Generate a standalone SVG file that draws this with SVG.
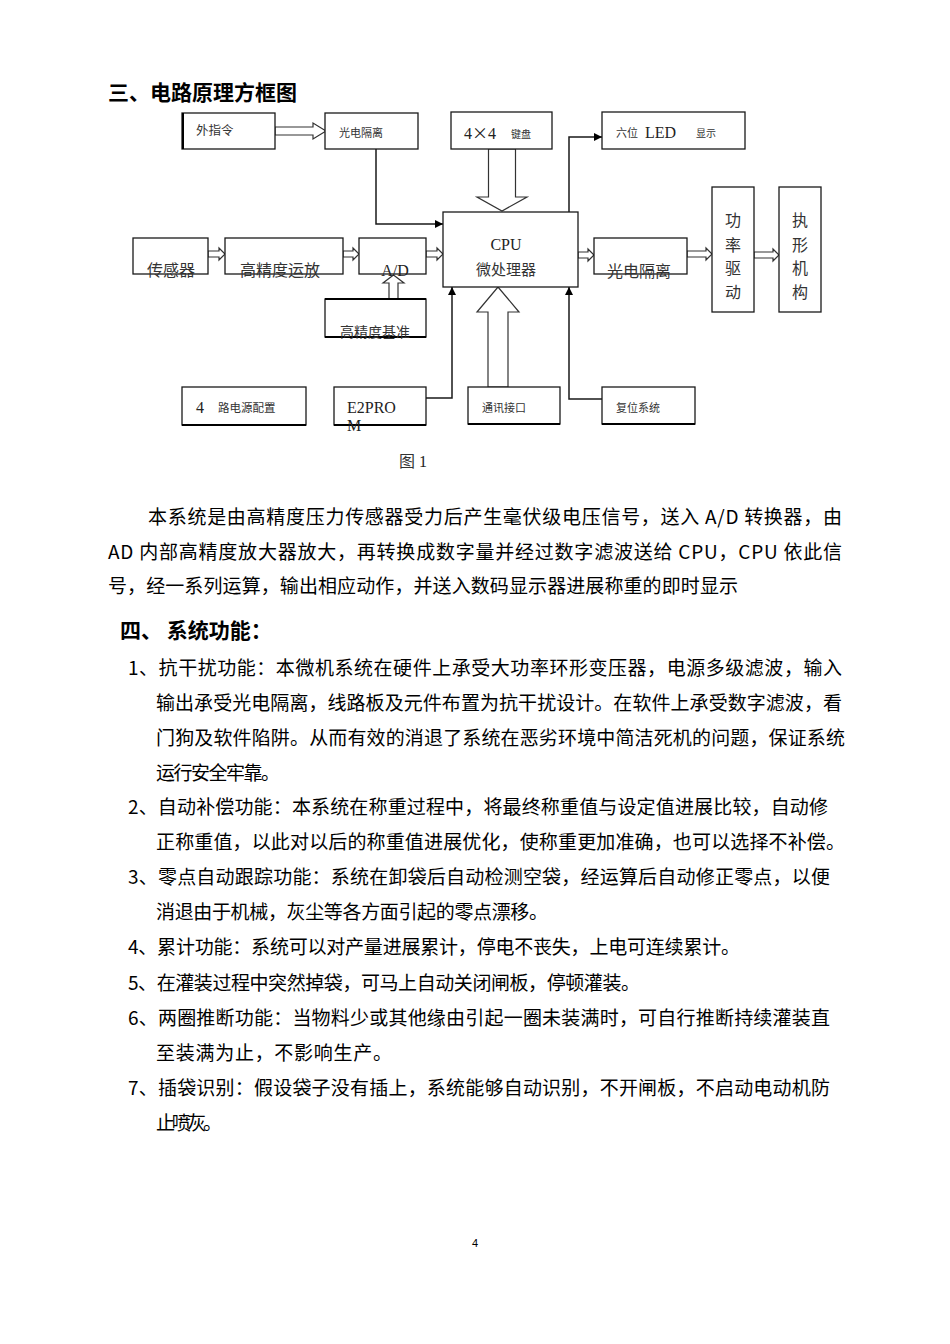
<svg xmlns="http://www.w3.org/2000/svg" width="950" height="1344" viewBox="0 0 950 1344">
<style>
.box{fill:#fff;stroke:#1a1a1a;stroke-width:1.3}
.hol{fill:#fff;stroke:#333;stroke-width:1.2}
.ln{fill:none;stroke:#1a1a1a;stroke-width:1.5}
.lb{font-family:"Liberation Serif","Noto Sans CJK SC",serif;fill:#222}
.cj{font-family:"Noto Sans CJK SC",sans-serif;fill:#333}
.body{font-family:"Noto Sans CJK SC","Liberation Sans",sans-serif;font-size:19px;fill:#000}
.hd{font-family:"Noto Sans CJK SC",sans-serif;font-weight:bold;font-size:21px;fill:#000}
</style>
<defs>
<marker id="ah" viewBox="0 0 10 10" refX="10" refY="5" markerWidth="8" markerHeight="8" markerUnits="userSpaceOnUse" orient="auto">
<path d="M0,0 L10,5 L0,10 z" fill="#000"/>
</marker>
</defs>
<rect width="950" height="1344" fill="#fff"/>

<text class="hd" x="108" y="100">三、电路原理方框图</text>

<g id="connectors">
<polygon class="hol" points="275,127 313,127 313,123 326,131 313,139 313,135 275,135"/>
<polyline class="ln" points="376,149 376,224 443,224" marker-end="url(#ah)"/>
<polygon class="hol" points="488.5,149 515.5,149 515.5,197 527,197 502,211 477,197 488.5,197"/>
<polyline class="ln" points="569,212 569,137 602,137" marker-end="url(#ah)"/>
<polygon class="hol" points="208,251 219,251 219,248 225,254 219,260 219,257 208,257"/>
<polygon class="hol" points="343,251 353,251 353,248 359,254 353,260 353,257 343,257"/>
<polygon class="hol" points="426,251 437,251 437,248 443,254 437,260 437,257 426,257"/>
<polygon class="hol" points="578,252 588,252 588,249 594,255 588,261 588,258 578,258"/>
<polygon class="hol" points="687,251 706,251 706,248 712,254 706,260 706,257 687,257"/>
<polygon class="hol" points="754,252 773,252 773,249 779,255 773,261 773,258 754,258"/>
<polygon class="hol" points="389,299 398,299 398,283 404,283 393.5,275 383,283 389,283"/>
<polyline class="ln" points="426,398 452,398 452,287" marker-end="url(#ah)"/>
<polygon class="hol" points="488,387 508,387 508,312 519,312 498,287 477,312 488,312"/>
<polyline class="ln" points="602,399 569,399 569,287" marker-end="url(#ah)"/>
</g>

<g id="wai">
<rect class="box" x="182" y="113" width="93" height="36"/>
<line x1="183" y1="113" x2="183" y2="149" stroke="#000" stroke-width="2"/>
<text class="cj" x="196" y="135" font-size="12.5">外指令</text>
</g>
<g id="gd1">
<rect class="box" x="325" y="113" width="93" height="36"/>
<text class="cj" x="339" y="137" font-size="11">光电隔离</text>
</g>
<g id="kbd">
<rect class="box" x="451" y="112" width="101" height="37"/>
<text class="lb" x="464" y="139" font-size="16">4<tspan font-family="Noto Sans CJK SC, sans-serif">×</tspan>4</text>
<text class="cj" x="511" y="138" font-size="10">键盘</text>
</g>
<g id="led">
<rect class="box" x="602" y="112" width="143" height="37"/>
<text class="cj" x="616" y="137" font-size="11">六位</text>
<text class="lb" x="645" y="138" font-size="16">LED</text>
<text class="cj" x="696" y="137" font-size="10">显示</text>
</g>
<g id="cpu">
<rect class="box" x="443" y="212" width="135" height="75"/>
<text class="lb" x="506" y="250" font-size="16" text-anchor="middle">CPU</text>
<text class="cj" x="506" y="275" font-size="15" text-anchor="middle">微处理器</text>
</g>
<g id="sensor">
<rect class="box" x="133" y="238" width="75" height="36"/>
<text class="cj" x="147" y="276" font-size="16">传感器</text>
</g>
<g id="amp">
<rect class="box" x="225" y="238" width="118" height="36"/>
<text class="cj" x="240" y="276" font-size="16">高精度运放</text>
</g>
<g id="ad">
<rect class="box" x="359" y="238" width="67" height="36"/>
<text class="lb" x="395" y="276" font-size="16" text-anchor="middle">A/D</text>
</g>
<g id="ref">
<rect class="box" x="325" y="299" width="101" height="38"/>
<line x1="325" y1="299" x2="426" y2="299" stroke="#000" stroke-width="2"/>
<line x1="325" y1="337" x2="426" y2="337" stroke="#000" stroke-width="2"/>
<text class="cj" x="340" y="337" font-size="14">高精度基准</text>
</g>
<g id="gd2">
<rect class="box" x="594" y="238" width="93" height="36"/>
<text class="cj" x="607" y="277" font-size="16">光电隔离</text>
</g>
<g id="drive">
<rect class="box" x="712" y="187" width="42" height="125"/>
<text class="cj" font-size="16" text-anchor="middle"><tspan x="733" y="226">功</tspan><tspan x="733" y="251">率</tspan><tspan x="733" y="274">驱</tspan><tspan x="733" y="298">动</tspan></text>
</g>
<g id="act">
<rect class="box" x="779" y="187" width="42" height="125"/>
<text class="cj" font-size="16" text-anchor="middle"><tspan x="800" y="226">执</tspan><tspan x="800" y="251">形</tspan><tspan x="800" y="274">机</tspan><tspan x="800" y="298">构</tspan></text>
</g>
<g id="power">
<rect class="box" x="182" y="387" width="124" height="38"/>
<line x1="182" y1="425" x2="306" y2="425" stroke="#000" stroke-width="2"/>
<text class="lb" x="196" y="413" font-size="16">4</text>
<text class="cj" x="218" y="412" font-size="11.5">路电源配置</text>
</g>
<g id="e2prom">
<rect class="box" x="334" y="387" width="92" height="38"/>
<line x1="334" y1="425" x2="426" y2="425" stroke="#000" stroke-width="2"/>
<text class="lb" x="347" y="413" font-size="16">E2PRO</text>
<text class="lb" x="347" y="431" font-size="16">M</text>
</g>
<g id="comm">
<rect class="box" x="468" y="387" width="92" height="37"/>
<line x1="468" y1="424" x2="560" y2="424" stroke="#000" stroke-width="2"/>
<text class="cj" x="482" y="412" font-size="11">通讯接口</text>
</g>
<g id="reset">
<rect class="box" x="602" y="387" width="93" height="37"/>
<line x1="602" y1="424" x2="695" y2="424" stroke="#000" stroke-width="2"/>
<text class="cj" x="616" y="412" font-size="11">复位系统</text>
</g>

<text x="399" y="467" font-size="16"><tspan class="cj" fill="#000">图</tspan><tspan class="lb" dx="4">1</tspan></text>

<g id="para">
<text class="body" x="148" y="524" textLength="694" lengthAdjust="spacing">本系统是由高精度压力传感器受力后产生毫伏级电压信号，送入 A/D 转换器，由</text>
<text class="body" x="108" y="559" textLength="734" lengthAdjust="spacing">AD 内部高精度放大器放大，再转换成数字量并经过数字滤波送给 CPU，CPU 依此信</text>
<text class="body" x="108" y="593" textLength="630" lengthAdjust="spacing">号，经一系列运算，输出相应动作，并送入数码显示器进展称重的即时显示</text>
</g>

<text class="hd" x="120" y="638">四、 系统功能：</text>

<g id="list">
<text class="body" x="128" y="675" textLength="714" lengthAdjust="spacing">1、抗干扰功能：本微机系统在硬件上承受大功率环形变压器，电源多级滤波，输入</text>
<text class="body" x="156" y="710" textLength="686" lengthAdjust="spacing">输出承受光电隔离，线路板及元件布置为抗干扰设计。在软件上承受数字滤波，看</text>
<text class="body" x="156" y="745" textLength="689" lengthAdjust="spacing">门狗及软件陷阱。从而有效的消退了系统在恶劣环境中简洁死机的问题，保证系统</text>
<text class="body" x="156" y="780" textLength="124" lengthAdjust="spacing">运行安全牢靠。</text>
<text class="body" x="128" y="814" textLength="700" lengthAdjust="spacing">2、自动补偿功能：本系统在称重过程中，将最终称重值与设定值进展比较，自动修</text>
<text class="body" x="156" y="849" textLength="689" lengthAdjust="spacing">正称重值，以此对以后的称重值进展优化，使称重更加准确，也可以选择不补偿。</text>
<text class="body" x="128" y="884" textLength="702" lengthAdjust="spacing">3、零点自动跟踪功能：系统在卸袋后自动检测空袋，经运算后自动修正零点，以便</text>
<text class="body" x="156" y="919" textLength="392" lengthAdjust="spacing">消退由于机械，灰尘等各方面引起的零点漂移。</text>
<text class="body" x="128" y="954" textLength="612" lengthAdjust="spacing">4、累计功能：系统可以对产量进展累计，停电不丧失，上电可连续累计。</text>
<text class="body" x="128" y="990" textLength="512" lengthAdjust="spacing">5、在灌装过程中突然掉袋，可马上自动关闭闸板，停顿灌装。</text>
<text class="body" x="128" y="1025" textLength="702" lengthAdjust="spacing">6、两圈推断功能：当物料少或其他缘由引起一圈未装满时，可自行推断持续灌装直</text>
<text class="body" x="156" y="1060" textLength="236" lengthAdjust="spacing">至装满为止，不影响生产。</text>
<text class="body" x="128" y="1095" textLength="702" lengthAdjust="spacing">7、插袋识别：假设袋子没有插上，系统能够自动识别，不开闸板，不启动电动机防</text>
<text class="body" x="156" y="1130" textLength="66" lengthAdjust="spacing">止喷灰。</text>
</g>

<text x="475" y="1247" font-family="Liberation Sans, sans-serif" font-size="11" text-anchor="middle" fill="#000">4</text>
</svg>
